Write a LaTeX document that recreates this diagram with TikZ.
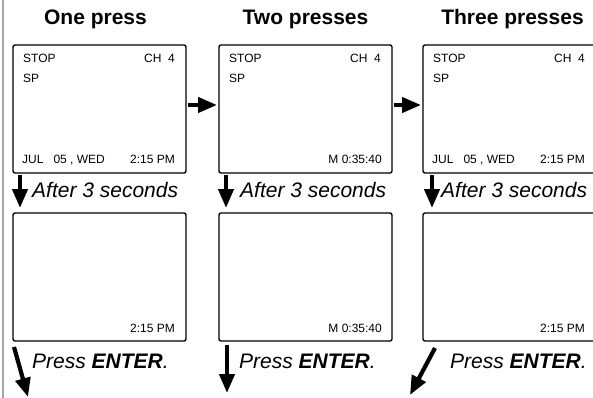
\documentclass[tikz,border=0pt]{standalone}
\usepackage{fontspec}
\setmainfont{Liberation Sans}
\usetikzlibrary{positioning, arrows.meta}
\tikzset{
    screen/.style={rectangle, draw=black, line width=1.4pt, rounded corners=2pt,
        minimum width=173pt, minimum height=128pt, outer sep=0pt, inner sep=0pt}, % one display
    lcd/.style={font=\fontsize{12}{14}\selectfont, inner sep=0pt},
    heading/.style={font=\fontsize{21}{24}\selectfont\bfseries, anchor=base, inner sep=0pt},
    caption/.style={font=\fontsize{21}{24}\selectfont\itshape, anchor=base west, inner sep=0pt},
    fatarrow/.style={line width=4.2pt, -{Triangle[length=19pt, width=15pt]}},
}

\begin{document}
\begin{tikzpicture}[x=1pt, y=1pt]
        % Frame
        \clip (0,0) rectangle (593,-398);
        \draw[gray!70, line width=1.2pt] (3,0) -- (3,-398);

        % Screens
        \node[screen] (s1) at (99.5,-109) {};
        \node[screen, right=33pt of s1] (s2) {};
        \node[screen, right=31pt of s2] (s3) {};
        \node[screen, below=40pt of s1] (b1) {};
        \node[screen, below=40pt of s2] (b2) {};
        \node[screen, below=40pt of s3] (b3) {};

        % Headings
        \node[heading] (h1) at ([xshift=-4pt, yshift=20pt]s1.north) {One press};
        \node[heading] (h2) at ([yshift=20pt]s2.north) {Two presses};
        \node[heading] (h3) at ([xshift=3pt, yshift=20pt]s3.north) {Three presses};

        % Display texts
        \foreach \s in {s1,s2,s3} {
            \node[lcd, anchor=base west] (\s-stop) at ([xshift=10pt, yshift=-18pt]\s.north west) {STOP};
            \node[lcd, anchor=base west] (\s-sp) at ([xshift=10pt, yshift=-38pt]\s.north west) {SP};
            \node[lcd, anchor=base east] (\s-ch) at ([xshift=-11pt, yshift=-18pt]\s.north east) {CH\ \ 4};
        }
        \node[lcd, anchor=base west] (s1-date) at ([xshift=9pt, yshift=10pt]s1.south west) {JUL\ \ \ 05 , WED};
        \node[lcd, anchor=base east] (s1-time) at ([xshift=-11pt, yshift=10pt]s1.south east) {2:15 PM};
        \node[lcd, anchor=base east] (s2-timer) at ([xshift=-10pt, yshift=10pt]s2.south east) {M 0:35:40};
        \node[lcd, anchor=base west] (s3-date) at ([xshift=9pt, yshift=10pt]s3.south west) {JUL\ \ \ 05 , WED};
        \node[lcd, anchor=base east] (s3-time) at ([xshift=-11pt, yshift=10pt]s3.south east) {2:15 PM};
        \node[lcd, anchor=base east] (b1-time) at ([xshift=-11pt, yshift=9pt]b1.south east) {2:15 PM};
        \node[lcd, anchor=base east] (b2-timer) at ([xshift=-10pt, yshift=9pt]b2.south east) {M 0:35:40};
        \node[lcd, anchor=base east] (b3-time) at ([xshift=-11pt, yshift=9pt]b3.south east) {2:15 PM};

        % Captions
        \node[caption] (a1) at ([xshift=19pt, yshift=-24pt]s1.south west) {After 3 seconds};
        \node[caption] (a2) at ([xshift=21pt, yshift=-24pt]s2.south west) {After 3 seconds};
        \node[caption] (a3) at ([xshift=18pt, yshift=-24pt]s3.south west) {After 3 seconds};
        \node[caption] (p1) at ([xshift=19pt, yshift=-27pt]b1.south west) {Press \textbf{ENTER}.};
        \node[caption] (p2) at ([xshift=20pt, yshift=-27pt]b2.south west) {Press \textbf{ENTER}.};
        \node[caption] (p3) at ([xshift=27pt, yshift=-27pt]b3.south west) {Press \textbf{ENTER}.};

        % Arrows
        \draw[fatarrow, shorten <=2pt, shorten >=2pt] ([yshift=4pt]s1.east) -- ([yshift=4pt]s2.west);
        \draw[fatarrow, shorten <=2pt, shorten >=2pt] ([yshift=4pt]s2.east) -- ([yshift=4pt]s3.west);
        \foreach \s/\b/\dx in {s1/b1/7, s2/b2/7, s3/b3/9}
            \draw[fatarrow, shorten <=2pt, shorten >=5pt] ([xshift=\dx]\s.south west) -- ([xshift=\dx]\b.north west);
        \coordinate (e1) at (28,-397);
        \coordinate (e2) at (227,-393);
        \coordinate (e3) at (410,-395);
        \draw[fatarrow] ([xshift=1pt, yshift=-6pt]b1.south west) -- (e1);
        \draw[fatarrow] ([xshift=8pt, yshift=-4pt]b2.south west) -- (e2);
        \draw[fatarrow] ([xshift=12pt, yshift=-7pt]b3.south west) -- (e3);
    \end{tikzpicture}
\end{document}
